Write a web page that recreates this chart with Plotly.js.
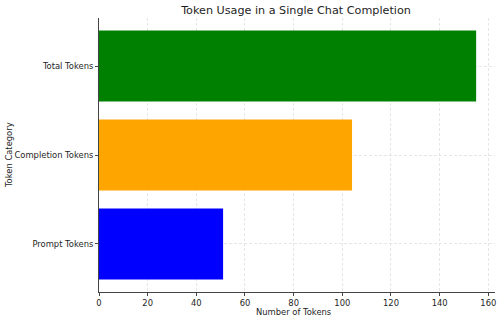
<!DOCTYPE html>
<html><head><meta charset="utf-8">
<script src="https://cdn.plot.ly/plotly-3.0.1.min.js"></script>
<style>html,body{margin:0;padding:0;background:#fff}#c{width:500px;height:320px}</style>
</head><body><div id="c"></div>
<script>
const categories = ["Prompt Tokens", "Completion Tokens", "Total Tokens"];
const tokenCounts = [51, 104, 155];
const barColors = ["blue", "orange", "green"];
const xTicks = [0, 20, 40, 60, 80, 100, 120, 140, 160];

const trace = {
  type: "bar", orientation: "h",
  y: categories, x: tokenCounts,
  marker: {color: barColors, line: {width: 0}},
  width: 0.8, hoverinfo: "none"
};
const font = {family: "DejaVu Sans, sans-serif", size: 8.4, color: "#1e1e1e"};
const layout = {
  width: 500, height: 320,
  margin: {l: 99, r: 5, t: 18, b: 28},
  paper_bgcolor: "#fff", plot_bgcolor: "#fff",
  font: font,
  showlegend: false,
  title: {text: "Token Usage in a Single Chat Completion", font: {family: "DejaVu Sans, sans-serif", size: 11.2, color: "#1e1e1e"}, x: 0.592, xanchor: "center", y: 0.968, yanchor: "middle"},
  xaxis: {
    range: [0, 162.75], tickvals: xTicks, ticktext: xTicks.map(String),
    showgrid: true, gridcolor: "#e0e0e0", griddash: "3px,2px", gridwidth: 0.8,
    zeroline: false, showline: true, linecolor: "#444", linewidth: 1,
    ticks: "outside", ticklen: 3, tickcolor: "#444",
    tickfont: font
  },
  yaxis: {
    range: [-0.54, 2.54], type: "category",
    showgrid: true, gridcolor: "#e0e0e0", griddash: "3px,2px", gridwidth: 0.8,
    zeroline: false, showline: true, linecolor: "#444", linewidth: 1,
    ticks: "outside", ticklen: 3, tickcolor: "#444",
    tickfont: font
  },
  annotations: [
    {text: "Number of Tokens", xref: "paper", yref: "paper", x: 0.49, y: -0.0748, xanchor: "center", yanchor: "middle", borderpad: 0, showarrow: false, font: font},
    {text: "Token Category", xref: "paper", yref: "paper", x: -0.227, y: 0.5, xanchor: "center", yanchor: "middle", borderpad: 0, textangle: -90, showarrow: false, font: font}
  ]
};
Plotly.newPlot("c", [trace], layout, {staticPlot: true, displayModeBar: false});
</script></body></html>
